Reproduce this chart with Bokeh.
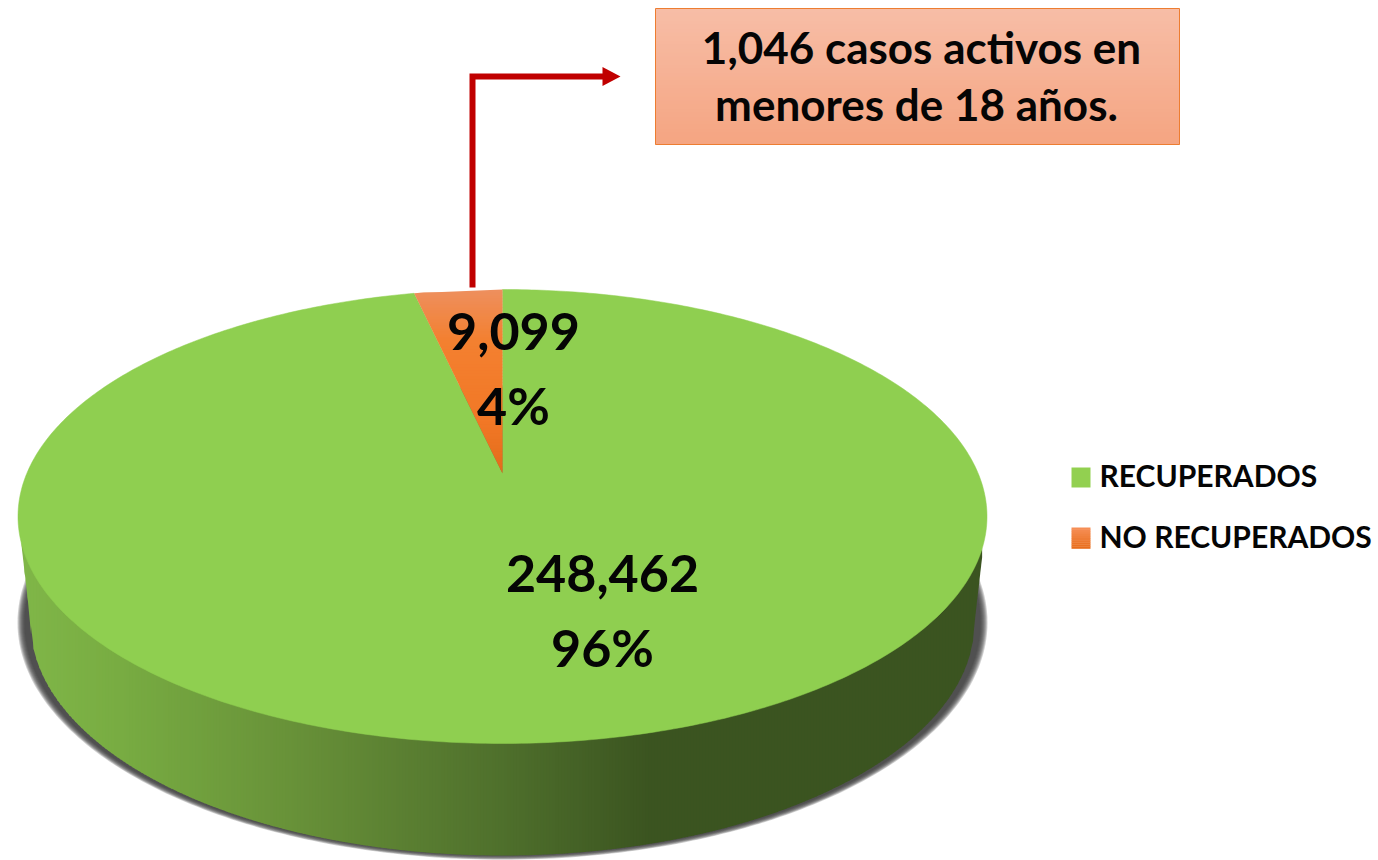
import numpy as np
from bokeh.plotting import figure
from bokeh.models import Range1d
from bokeh.core.properties import value
from bokeh.embed import file_html
from bokeh.resources import INLINE

# ---- data ----
categories = ["RECUPERADOS", "NO RECUPERADOS"]
case_counts = [248462, 9099]
percent_labels = ["96%", "4%"]
count_labels = ["248,462", "9,099"]
callout_lines = ["1,046 casos activos en", "menores de 18 años."]

# ---- layout (page pixels, y down) ----
FONT = value("Lato")
W, H = 1378, 860
CX, APEX_Y, TOP_Y, BOT_Y, RX = 502.0, 473.0, 289.0, 743.0, 484.5
k = ((BOT_Y - APEX_Y) - (APEX_Y - TOP_Y)) / (BOT_Y - TOP_Y)
B = (APEX_Y - TOP_Y) * (1 + k)
A = RX * np.sqrt(1 - k * k)
E_CY, E_RY = (TOP_Y + BOT_Y) / 2, (BOT_Y - TOP_Y) / 2
L_CY, L_RX, L_RY = 622.0, 472.0, 233.0


def project(theta):
    """Clockwise angle from 12 o'clock on the disk -> perspective pixel position."""
    u, v = np.sin(theta), np.cos(theta)
    d = 1 + k * v
    return CX + A * u / d, APEX_Y - B * v / d


def mix(c1, c2, t):
    return "#%02x%02x%02x" % tuple(int(round(a + (b - a) * t)) for a, b in zip(c1, c2))


p = figure(width=W, height=H, x_range=Range1d(0, W), y_range=Range1d(H, 0),
           output_backend="svg", toolbar_location=None, min_border=0,
           background_fill_color="white", border_fill_color="white")
p.axis.visible = False
p.grid.visible = False
p.outline_line_color = None

# ---- drop shadow ----
t = np.linspace(0, 2 * np.pi, 361)
for grow in range(7, -1, -1):
    p.patch(CX + (478 + grow) * np.cos(t), 622 + (233 + grow * 0.6) * np.sin(t),
            fill_color="#3c3c3c", fill_alpha=0.24, line_color=None)

# ---- side wall, vertical gradient strips ----
X_L, X_R, J_Y = 21.0, 983.0, 545.0
xs_edges = np.arange(X_L, X_R + 0.1, 3.0)


def wall_top(x):
    return E_CY + E_RY * np.sqrt(np.clip(1 - ((x - CX) / RX) ** 2, 0, 1))


def wall_bottom(x):
    lo, hi = CX - L_RX, CX + L_RX
    inner = L_CY + L_RY * np.sqrt(np.clip(1 - ((np.clip(x, lo, hi) - CX) / L_RX) ** 2, 0, 1))
    if x < lo:
        return J_Y + (x - X_L) / (lo - X_L) * (L_CY - J_Y)
    if x > hi:
        return J_Y + (X_R - x) / (X_R - hi) * (L_CY - J_Y)
    return inner


stops_x = [21, 120, 300, 500, 650, 987]
stops_c = [(0x80, 0xb6, 0x48), (0x78, 0xac, 0x42), (0x67, 0x90, 0x38), (0x4f, 0x70, 0x2c),
           (0x3b, 0x54, 0x20), (0x3b, 0x54, 0x20)]
sx, sy, sc = [], [], []
for a, b in zip(xs_edges[:-1], xs_edges[1:]):
    m = (a + b) / 2
    c = [np.interp(m, stops_x, [s[i] for s in stops_c]) for i in range(3)]
    sx.append([a, b + 0.6, b + 0.6, a])
    sy.append([wall_top(a) - 2, wall_top(b) - 2, wall_bottom(b + 0.6), wall_bottom(a)])
    sc.append(mix(c, c, 0))
p.patches(sx, sy, fill_color=sc, line_color=None)

# ---- top face, drawn from the values ----
total = sum(case_counts)
sweep_orange = 2 * np.pi * case_counts[1] / total
th_green = np.linspace(0, 2 * np.pi - sweep_orange, 500)
gx, gy = project(th_green)
p.patch(np.r_[CX, gx], np.r_[APEX_Y, gy], fill_color="#8fcf50", line_color="#8fcf50", line_width=0.5)

# orange slice: horizontal gradient bands
th_orange = np.linspace(-sweep_orange, 0, 60)
ox, oy = project(th_orange)
lx, ly = project(-sweep_orange)
band_edges = np.arange(TOP_Y, APEX_Y + 0.1, 3.0)
bx, by, bc = [], [], []
c_stops_y = [TOP_Y, 340, 420, APEX_Y]
c_stops = [(0xee, 0x8f, 0x5e), (0xf3, 0x80, 0x30), (0xf2, 0x78, 0x26), (0xe2, 0x6c, 0x1a)]


def left_edge(y):
    if y >= ly:
        return CX + (lx - CX) * (APEX_Y - y) / (APEX_Y - ly)
    return np.interp(y, oy[::-1] if oy[0] > oy[-1] else oy, ox[::-1] if oy[0] > oy[-1] else ox)


for y0, y1 in zip(band_edges[:-1], band_edges[1:]):
    m = (y0 + y1) / 2
    c = [np.interp(m, c_stops_y, [s[i] for s in c_stops]) for i in range(3)]
    bot = min(y1 + 0.5, APEX_Y)
    if y0 < ly < y1:
        bx.append([left_edge(y0), CX, CX, left_edge(bot), lx])
        by.append([y0, y0, bot, bot, ly])
    else:
        bx.append([left_edge(y0), CX, CX, left_edge(bot)])
        by.append([y0, y0, bot, bot])
    bc.append(mix(c, c, 0))
p.patches(bx, by, fill_color=bc, line_color=None)

# ---- data labels ----
p.text(x=[602, 513], y=[573, 331], text=count_labels, text_font=FONT, text_font_style="bold",
       text_font_size="52px", text_color="#050505", text_align="center", text_baseline="middle")
p.text(x=[602, 513], y=[646, 404], text=percent_labels, text_font=FONT, text_font_style="bold",
       text_font_size="52px", text_color="#050505", text_align="center", text_baseline="middle")

# ---- connector arrow ----
p.line([472, 472, 604], [287, 76, 76], line_color="#c00000", line_width=6, line_join="miter")
p.patch([602, 620, 602], [66.5, 76, 85.5], fill_color="#c00000", line_color=None)

# ---- call-out box ----
BOX = (655, 1179, 8, 144)
n = 34
ys = np.linspace(BOX[2], BOX[3], n + 1)
cols = [mix((0xf7, 0xbd, 0xa6), (0xf5, 0xa5, 0x82), i / (n - 1)) for i in range(n)]
p.quad(left=[BOX[0]] * n, right=[BOX[1]] * n, top=ys[:-1], bottom=ys[1:] + 0.4, fill_color=cols, line_color=None)
p.quad(left=[BOX[0]], right=[BOX[1]], top=[BOX[2]], bottom=[BOX[3]], fill_color=None,
       line_color="#ed7d31", line_width=1)
p.text(x=[921, 916], y=[46, 103], text=callout_lines, text_font=FONT, text_font_style="bold",
       text_font_size="44px", text_color="#050505", text_align="center", text_baseline="middle")

# ---- legend ----
p.quad(left=[1071], right=[1090], top=[467], bottom=[487], fill_color="#92d050", line_color=None)
n = 10
ys = np.linspace(527, 548, n + 1)
cols = [mix((0xf6, 0x8e, 0x55), (0xe8, 0x6e, 0x1d), i / (n - 1)) for i in range(n)]
p.quad(left=[1071] * n, right=[1090] * n, top=ys[:-1], bottom=ys[1:] + 0.3, fill_color=cols, line_color=None)
p.text(x=[1099, 1099], y=[474, 535], text=categories, text_font=FONT, text_font_style="bold",
       text_font_size="30px", text_color="#050505", text_align="left", text_baseline="middle")

open("out.html", "w").write(file_html(p, INLINE))
